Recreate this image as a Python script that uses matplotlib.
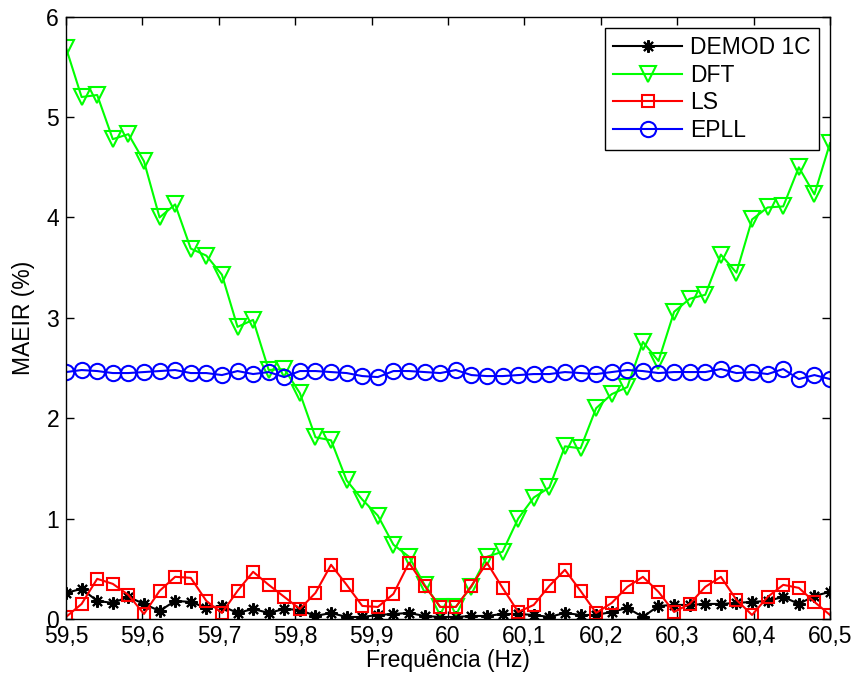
import numpy as np
import matplotlib
matplotlib.use("Agg")
from matplotlib import pyplot as plt
from matplotlib.ticker import FuncFormatter

plt.rcParams['font.family'] = ['Liberation Sans', 'DejaVu Sans']

# 50 frequencies between 59.5 and 60.5 Hz
freq = np.linspace(59.5, 60.5, 50)

demod = [0.26, 0.30, 0.18, 0.16, 0.22, 0.15, 0.08, 0.18, 0.17, 0.11,
         0.13, 0.06, 0.10, 0.06, 0.10, 0.09, 0.03, 0.06, 0.02, 0.02,
         0.04, 0.05, 0.06, 0.03, 0.02, 0.02, 0.03, 0.03, 0.05, 0.05,
         0.04, 0.02, 0.06, 0.04, 0.04, 0.07, 0.11, 0.02, 0.13, 0.14,
         0.14, 0.15, 0.15, 0.16, 0.17, 0.18, 0.22, 0.15, 0.23, 0.27]

dft = [5.69, 5.20, 5.22, 4.78, 4.83, 4.56, 4.00, 4.13, 3.69, 3.62,
       3.43, 2.91, 2.98, 2.48, 2.49, 2.25, 1.81, 1.78, 1.38, 1.19,
       1.03, 0.74, 0.62, 0.34, 0.12, 0.12, 0.32, 0.62, 0.67, 1.00,
       1.21, 1.31, 1.72, 1.70, 2.10, 2.24, 2.31, 2.76, 2.57, 3.06,
       3.19, 3.23, 3.63, 3.45, 3.98, 4.10, 4.11, 4.50, 4.23, 4.74]

ls = [0.02, 0.15, 0.40, 0.35, 0.24, 0.05, 0.28, 0.42, 0.41, 0.18,
      0.06, 0.28, 0.47, 0.34, 0.22, 0.10, 0.26, 0.54, 0.34, 0.13,
      0.12, 0.25, 0.56, 0.33, 0.12, 0.12, 0.33, 0.56, 0.31, 0.07,
      0.14, 0.33, 0.49, 0.28, 0.06, 0.16, 0.32, 0.42, 0.27, 0.07,
      0.15, 0.32, 0.42, 0.19, 0.04, 0.22, 0.34, 0.31, 0.17, 0.04]

epll = [2.46, 2.48, 2.47, 2.45, 2.45, 2.46, 2.47, 2.48, 2.45, 2.45,
        2.43, 2.47, 2.44, 2.46, 2.41, 2.47, 2.47, 2.46, 2.45, 2.42,
        2.41, 2.47, 2.47, 2.46, 2.45, 2.48, 2.43, 2.42, 2.42, 2.43,
        2.44, 2.44, 2.46, 2.45, 2.44, 2.46, 2.48, 2.47, 2.45, 2.46,
        2.46, 2.46, 2.49, 2.45, 2.46, 2.44, 2.49, 2.39, 2.43, 2.39]

fs = 16.5

fig = plt.figure(figsize=(8.54, 6.82), dpi=100)
ax = fig.add_axes([0.0773, 0.0924, 0.8946, 0.8831])

lw = 1.5
ax.plot(freq, demod, color='k', lw=lw, marker=(8, 2, 0), ms=9, mew=1.5,
        label='DEMOD 1C')
ax.plot(freq, dft, color=(0, 1, 0), lw=lw, marker='v', ms=11, mew=1.5,
        mfc='none', label='DFT')
ax.plot(freq, ls, color=(1, 0, 0), lw=lw, marker='s', ms=9, mew=1.5,
        mfc='none', label='LS')
ax.plot(freq, epll, color=(0, 0, 1), lw=lw, marker='o', ms=11, mew=1.5,
        mfc='none', label='EPLL')

ax.set_xlim(59.5, 60.5)
ax.set_ylim(0, 6)
ax.set_xticks(np.arange(59.5, 60.51, 0.1))
ax.set_yticks(range(0, 7))
ax.xaxis.set_major_formatter(FuncFormatter(lambda v, p: ('%g' % round(v, 1)).replace('.', ',')))
ax.tick_params(direction='in', top=True, right=True, labelsize=fs, length=6, width=1)
ax.tick_params(axis='x', pad=4)
ax.tick_params(axis='y', pad=5)
for s in ax.spines.values():
    s.set_linewidth(1)

ax.set_xlabel('Frequência (Hz)', fontsize=fs, labelpad=1)
ax.set_ylabel('MAEIR (%)', fontsize=fs, labelpad=8)

leg = ax.legend(loc='upper right', fontsize=fs, fancybox=False, framealpha=1,
                edgecolor='k', handlelength=3.0, borderaxespad=0.5,
                labelspacing=0.2, handletextpad=0.35, borderpad=0.35)
leg.get_frame().set_linewidth(1)

fig.savefig('out.png', dpi=100)
